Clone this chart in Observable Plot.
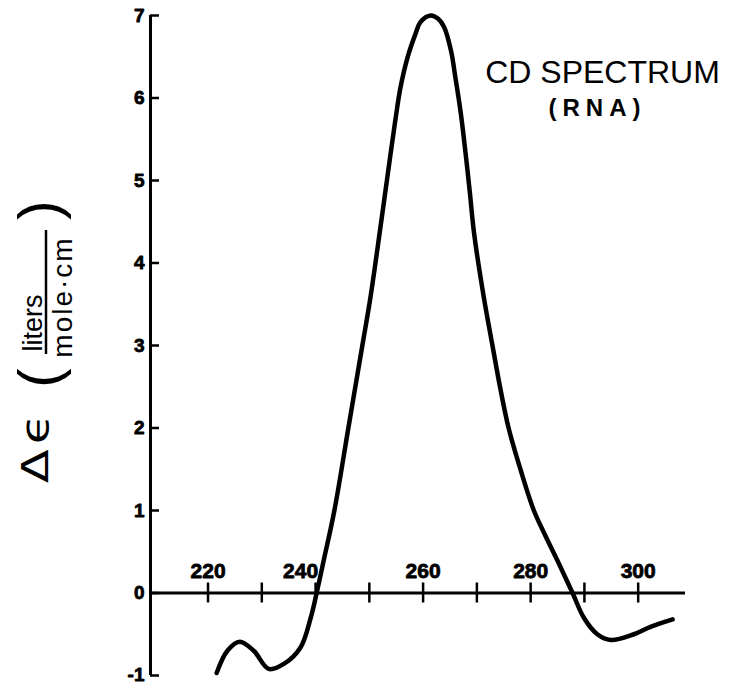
<!DOCTYPE html>
<html>
<head>
<meta charset="utf-8">
<script src="https://cdn.jsdelivr.net/npm/d3@7"></script>
<script src="https://cdn.jsdelivr.net/npm/@observablehq/plot@0.6"></script>
<style>
  body { margin: 0; background: #fff; }
  #chart svg { display: block; }
</style>
</head>
<body>
<div id="chart"></div>
<script>
// Circular dichroism spectrum of RNA: wavelength (nm) against Δε (liters / mole·cm)
const wavelength = [
  221.6, 223.6, 225.9, 228.5, 231.3, 234.1, 237.2, 239.1, 240.2, 241.5,
  243.5, 246.1, 248.7, 250.2, 252.1, 253.9, 254.9, 255.8, 257.1, 258.6,
  259.5, 261.4, 262.8, 263.9, 265.2, 266.0, 267.0, 267.9, 268.7, 269.5,
  271.3, 272.9, 274.3, 275.9, 278.1, 280.6, 282.7, 285.0, 287.8, 289.9,
  292.4, 294.9, 299.2, 302.3, 306.4
];
const deltaEpsilon = [
  -0.97, -0.70, -0.59, -0.70, -0.92, -0.86, -0.66, -0.30, 0.00, 0.39,
   1.00,  2.00,  3.00,  3.58,  4.45,  5.30,  5.76,  6.13, 6.49, 6.78,
   6.92,  7.00,  6.96,  6.86,  6.57,  6.25,  5.82,  5.33, 4.85, 4.35,
   3.58,  3.00,  2.50,  2.00,  1.50,  1.00,  0.70,  0.39, 0.00, -0.30,
  -0.50, -0.57, -0.50, -0.41, -0.32
];
const xTicks = [220, 230, 240, 250, 260, 270, 280, 290, 300];
const xTickLabels = [220, 240, 260, 280, 300];
const yTicks = [-1, 0, 1, 2, 3, 4, 5, 6, 7];
const xDomain = [209.3, 308.8];
const yDomain = [-1, 7];
const title = "CD SPECTRUM";
const subtitle = "(RNA)";

const spectrum = wavelength.map((w, i) => ({w, e: deltaEpsilon[i]}));
const ink = "#000";
const font = "'Liberation Sans', Arial, Helvetica, sans-serif";
const labelStyle = {fontSize: 21, fontWeight: "bold", fill: ink, stroke: ink, strokeWidth: 0.8};
const yLabelStyle = {x: xDomain[0], y: d => d, text: d => String(d), textAnchor: "end", dx: -6,
  fontSize: 19, fontWeight: "bold", fill: ink, stroke: ink, strokeWidth: 0.8};

const chart = Plot.plot({
  width: 729,
  height: 684,
  marginLeft: 150,
  marginRight: 44,
  marginTop: 15,
  marginBottom: 9,
  style: {background: "#fff", color: ink, fontFamily: font},
  x: {domain: xDomain, axis: null},
  y: {domain: yDomain, axis: null},
  marks: [
    // vertical axis with short inward ticks
    Plot.ruleX([xDomain[0]], {stroke: ink, strokeWidth: 3}),
    Plot.ruleY(yTicks, {x1: xDomain[0], x2: xDomain[0], insetRight: -9, stroke: ink, strokeWidth: 2.5}),
    Plot.text(yTicks.filter(d => d > yDomain[0]), yLabelStyle),
    // the lowest label is nudged up so it stays inside the picture
    Plot.text(yTicks.filter(d => d === yDomain[0]), {...yLabelStyle, lineAnchor: "bottom", dy: 5}),
    // horizontal axis drawn along Δε = 0, ticks crossing the line
    Plot.ruleY([0], {stroke: ink, strokeWidth: 3}),
    Plot.ruleX(xTicks, {y1: 0, y2: 0, insetTop: -10, insetBottom: -10, stroke: ink, strokeWidth: 2.5}),
    Plot.text(xTickLabels.filter(d => d !== 240), {x: d => d, y: 0, text: String, dy: -15,
      lineAnchor: "bottom", ...labelStyle}),
    // the 240 label sits left of its tick, clear of the rising curve
    Plot.text(xTickLabels.filter(d => d === 240), {x: d => d, y: 0, text: String, dy: -15, dx: -15,
      lineAnchor: "bottom", ...labelStyle}),
    // the spectrum
    Plot.line(spectrum, {x: "w", y: "e", curve: "catmull-rom", stroke: ink, strokeWidth: 4.5,
      strokeLinecap: "round", strokeLinejoin: "round"}),
    // in-plot heading
    Plot.text([title], {frameAnchor: "top-left", dx: 452, dy: 67, lineAnchor: "bottom",
      textAnchor: "middle", fontSize: 32, fill: ink}),
    Plot.text([subtitle], {frameAnchor: "top-left", dx: 447, dy: 100, lineAnchor: "bottom",
      textAnchor: "middle", fontSize: 24, fontWeight: "bold", fill: ink})
  ]
});

document.getElementById("chart").appendChild(chart);

const svg = d3.select(chart);
svg.selectAll("text").filter(function () { return this.textContent === subtitle; })
  .attr("letter-spacing", 6);

// rotated y-axis label: Δϵ (liters / mole·cm)
const yLabel = svg.append("g").attr("fill", ink).attr("font-family", font);
function rotatedText(x, y, str, attrs, extra = "") {
  const t = yLabel.append("text")
    .attr("transform", `translate(${x},${y}) rotate(-90)${extra}`)
    .attr("text-anchor", "middle")
    .text(str);
  for (const [k, v] of Object.entries(attrs)) t.attr(k, v);
  return t;
}
rotatedText(48, 446, "Δϵ", {"font-size": 38, "font-family": "'DejaVu Sans', sans-serif", "letter-spacing": 4}, " scale(1.3,1)");
rotatedText(59, 378, "(", {"font-size": 58});
rotatedText(59, 210, ")", {"font-size": 58});
rotatedText(42, 323, "liters", {"font-size": 27});
rotatedText(72, 297, "mole·cm", {"font-size": 28, "letter-spacing": 2});
yLabel.append("line")
  .attr("x1", 46).attr("x2", 46).attr("y1", 230).attr("y2", 354)
  .attr("stroke", ink).attr("stroke-width", 2.5);
</script>
</body>
</html>
